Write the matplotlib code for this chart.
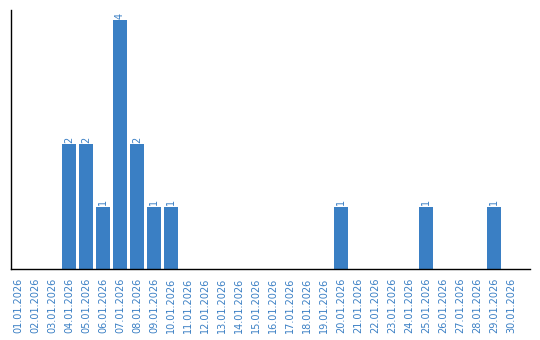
import matplotlib
matplotlib.use("Agg")
import matplotlib.pyplot as plt

dates = ["%02d.01.2026" % d for d in range(1, 31)]
counts = [0, 0, 0, 2, 2, 1, 4, 2, 1, 1,
          0, 0, 0, 0, 0, 0, 0, 0, 0, 1,
          0, 0, 0, 0, 1, 0, 0, 0, 1, 0]

blue = "#3a7fc4"

fig = plt.figure(figsize=(5.4, 3.4), dpi=100)
ax = fig.add_axes([11 / 540, 71 / 340, 519 / 540, 259 / 340])

xs = range(len(dates))
bars = ax.bar(xs, counts, width=0.82, color=blue)

# value labels above non-empty bars
for x, c in zip(xs, counts):
    if c > 0:
        ax.text(x, c + 0.02, str(c), rotation=90, ha="center", va="bottom",
                color=blue, fontsize=7)

ax.set_xlim(-0.41, 30.1)
ax.set_ylim(0, 4.16)
ax.set_xticks(list(xs))
ax.set_xticklabels(dates, rotation=90, color=blue, fontsize=7)
ax.tick_params(axis="x", length=0, pad=6)
ax.set_yticks([])

for s in ["top", "right"]:
    ax.spines[s].set_visible(False)
ax.spines["left"].set_linewidth(1.0)
ax.spines["bottom"].set_linewidth(1.0)

fig.savefig("out.png", dpi=100)
